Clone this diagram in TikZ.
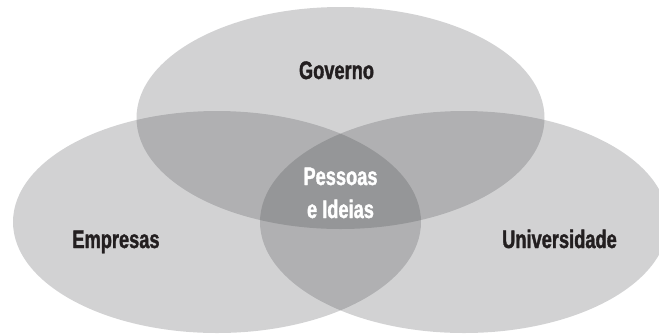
\documentclass[tikz,border=0pt]{standalone}
\usepackage{fontspec}
\newfontfamily\vennfont[FakeStretch=0.72,FakeBold=1.4]{Liberation Sans Bold}
\definecolor{vennfill}{RGB}{61,62,66}
\definecolor{venntext}{RGB}{35,31,32}

\tikzset{every picture/.style={line width=0.75pt}}
\tikzset{
  venn/.style={fill=vennfill, fill opacity=0.23},
  vennlabel/.style={anchor=base, inner sep=0pt, text=venntext, font=\vennfont\fontsize{19}{22}\selectfont},
  vennlabelw/.style={vennlabel, text=white}
}

\begin{document}
\begin{tikzpicture}[x=0.75pt,y=0.75pt,yscale=-1,xscale=1]
\path[use as bounding box] (0,0) rectangle (659,333);

%Shape: Ellipse [top]
\fill [venn] (340.5,118) ellipse [x radius=204, y radius=111];
%Shape: Ellipse [left]
\fill [venn] (217,222) ellipse [x radius=204, y radius=111];
%Shape: Ellipse [right]
\fill [venn] (464,222) ellipse [x radius=204, y radius=111];

% Text Node
\node [vennlabel] (governo) at (336.5,79) {Governo};
% Text Node
\node [vennlabel] (empresas) at (116,248) {Empresas};
% Text Node
\node [vennlabel] (universidade) at (559.5,248) {Universidade};
% Text Node
\node [vennlabelw] (pessoas) at (340.5,185) {Pessoas};
% Text Node
\node [vennlabelw] (ideias) at (340.5,218) {e Ideias};

\end{tikzpicture}
\end{document}
